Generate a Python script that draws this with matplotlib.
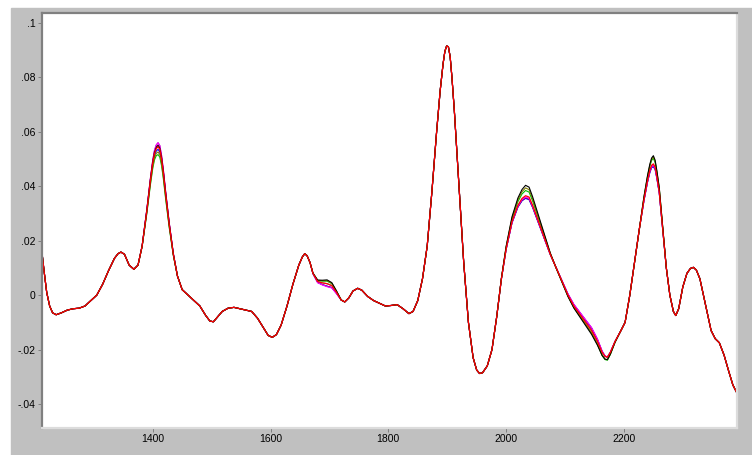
import numpy as np
import matplotlib
matplotlib.use("Agg")
import matplotlib.pyplot as plt
from matplotlib.patches import Rectangle
from matplotlib.ticker import FuncFormatter

# wavelength (nm) and the reference (red) spectrum
wavelength = [
    1212, 1216, 1220, 1225, 1230, 1236, 1245, 1255, 1265, 1275, 1285, 1295,
    1305, 1315, 1325, 1335, 1341, 1346, 1352, 1360, 1368, 1375, 1382, 1390,
    1396, 1400, 1403, 1406, 1409, 1412, 1415, 1418, 1422, 1428, 1435, 1442,
    1450, 1460, 1470, 1480, 1490, 1497, 1503, 1510, 1518, 1528, 1538, 1548,
    1558, 1568, 1578, 1588, 1596, 1603, 1610, 1618, 1628, 1638, 1648, 1654,
    1658, 1662, 1667, 1672, 1680, 1688, 1696, 1704, 1712, 1720, 1726, 1733,
    1740, 1748, 1755, 1765, 1775, 1785, 1795, 1805, 1815, 1825, 1835, 1842,
    1850, 1858, 1866, 1874, 1882, 1888, 1893, 1896, 1899, 1902, 1905, 1908,
    1912, 1920, 1928, 1936, 1944, 1950, 1955, 1960, 1968, 1976, 1984, 1992,
    2000, 2010, 2020, 2027, 2033, 2039, 2045, 2055, 2065, 2075, 2085, 2095,
    2105, 2115, 2125, 2135, 2145, 2155, 2163, 2168, 2172, 2177, 2185, 2195,
    2202, 2210, 2218, 2226, 2234, 2240, 2244, 2247, 2250, 2253, 2256, 2260,
    2266, 2272, 2278, 2284, 2288, 2293, 2300, 2307, 2313, 2318, 2323, 2329,
    2334, 2341, 2348, 2355, 2362, 2370, 2378, 2385, 2392,
]
reference = [
    0.0155, 0.008, 0.001, -0.004, -0.0065, -0.0072, -0.0065, -0.0055, -0.005, -0.0048, -0.004, -0.002,
    0.000, 0.004, 0.009, 0.0135, 0.0152, 0.0158, 0.015, 0.011, 0.0095, 0.011, 0.018, 0.031,
    0.042, 0.0485, 0.052, 0.0538, 0.0545, 0.0535, 0.050, 0.045, 0.037, 0.026, 0.015, 0.007,
    0.002, 0.000, -0.002, -0.004, -0.0075, -0.0095, -0.0098, -0.008, -0.006, -0.0048, -0.0045, -0.005,
    -0.0055, -0.006, -0.0085, -0.012, -0.0148, -0.0155, -0.0145, -0.011, -0.004, 0.004, 0.011, 0.014,
    0.0152, 0.0145, 0.012, 0.008, 0.005, 0.0045, 0.0042, 0.0035, 0.001, -0.0018, -0.0025, -0.001,
    0.0015, 0.0025, 0.0018, -0.0005, -0.002, -0.003, -0.004, -0.0038, -0.0035, -0.005, -0.0068, -0.006,
    -0.002, 0.006, 0.018, 0.038, 0.060, 0.075, 0.085, 0.0895, 0.0915, 0.0912, 0.0875, 0.080,
    0.068, 0.040, 0.012, -0.010, -0.023, -0.0275, -0.0288, -0.0285, -0.026, -0.020, -0.008, 0.006,
    0.017, 0.027, 0.033, 0.0355, 0.0365, 0.036, 0.033, 0.027, 0.021, 0.015, 0.010, 0.005,
    0.000, -0.004, -0.007, -0.010, -0.013, -0.017, -0.021, -0.0225, -0.0228, -0.021, -0.017, -0.013,
    -0.010, 0.000, 0.012, 0.024, 0.035, 0.042, 0.0458, 0.0477, 0.0482, 0.047, 0.0435, 0.038,
    0.024, 0.010, 0.000, -0.006, -0.0075, -0.005, 0.003, 0.008, 0.0098, 0.0102, 0.0092, 0.006,
    0.001, -0.006, -0.013, -0.016, -0.0175, -0.022, -0.028, -0.033, -0.036,
]

# where the other samples differ from the red one, and by how much
offset_wl = [1380, 1410, 1440, 1670, 1698, 1720, 1990, 2035, 2080, 2150, 2170, 2190, 2225, 2250, 2270]
sample_colors = ['#808080', '#0000ff', '#800080', '#ff00ff', '#00c000', '#808000', '#000000']
sample_offsets = [
    [0, 0.0005, 0, 0, 0.000, 0, 0, -0.001, 0, 0.000, 0.000, 0, 0, -0.001, 0],
    [0, -0.001, 0, 0, -0.001, 0, 0, -0.001, 0, 0.001, 0.000, 0, 0, -0.001, 0],
    [0, 0.0015, 0, 0, -0.001, 0, 0, -0.0008, 0, 0.001, 0.000, 0, 0, -0.0005, 0],
    [0, 0.0015, 0, 0, -0.0012, 0, 0, -0.0005, 0, 0.0012, 0.000, 0, 0, -0.0005, 0],
    [0, -0.003, 0, 0, 0.001, 0, 0, 0.002, 0, -0.001, -0.0012, 0, 0, 0.002, 0],
    [0, -0.002, 0, 0, 0.0012, 0, 0, 0.003, 0, -0.001, -0.001, 0, 0, 0.0025, 0],
    [0, 0.0005, 0, 0, 0.0015, 0, 0, 0.004, 0, -0.0015, -0.001, 0, 0, 0.003, 0],
]
reference_color = '#ff0000'

x_ticks = [1400, 1600, 1800, 2000, 2200]
y_ticks = [-0.04, -0.02, 0, 0.02, 0.04, 0.06, 0.08, 0.1]


def fmt_y(value, _):
    '''VB style label: no leading zero'''
    if abs(value) < 1e-9:
        return '0'
    s = f'{value:.2f}'.rstrip('0')
    return s.replace('0.', '.')


def main():
    plt.rcParams['font.family'] = ['Liberation Sans', 'DejaVu Sans']
    fig = plt.figure(figsize=(7.52, 4.55), dpi=100, facecolor='white')
    # grey panel behind the plot (white strip on the top and left)
    fig.patches.append(Rectangle((11 / 752, 0), 1, (455 - 8) / 455,
                                 transform=fig.transFigure, color='#c0c0c0', zorder=-10))
    ax = fig.add_axes([42 / 752, 27 / 455, 695 / 752, 415 / 455])
    ax.set_zorder(5)
    ax.set_facecolor('white')

    wl = np.array(wavelength)
    ref = np.array(reference)
    for color, offs in zip(sample_colors, sample_offsets):
        ax.plot(wl, ref + np.interp(wl, offset_wl, offs), color=color, lw=0.8)
    ax.plot(wl, ref, color=reference_color, lw=0.9)

    ax.set_xlim(1212, 2392)
    ax.set_ylim(-0.0488, 0.1036)
    ax.set_xticks(x_ticks)
    ax.set_yticks(y_ticks)
    ax.yaxis.set_major_formatter(FuncFormatter(fmt_y))
    ax.tick_params(direction='out', length=3, width=0.7, color='#808080',
                   labelsize=7.5, pad=1.5, labelcolor='black')

    for side in ['left', 'top']:
        ax.spines[side].set_color('#808080')
        ax.spines[side].set_linewidth(1.6)
    for side in ['right', 'bottom']:
        ax.spines[side].set_color('#dcdcdc')
        ax.spines[side].set_linewidth(1.6)

    fig.savefig('out.png', dpi=100, facecolor=fig.get_facecolor())


if __name__ == '__main__':
    main()
